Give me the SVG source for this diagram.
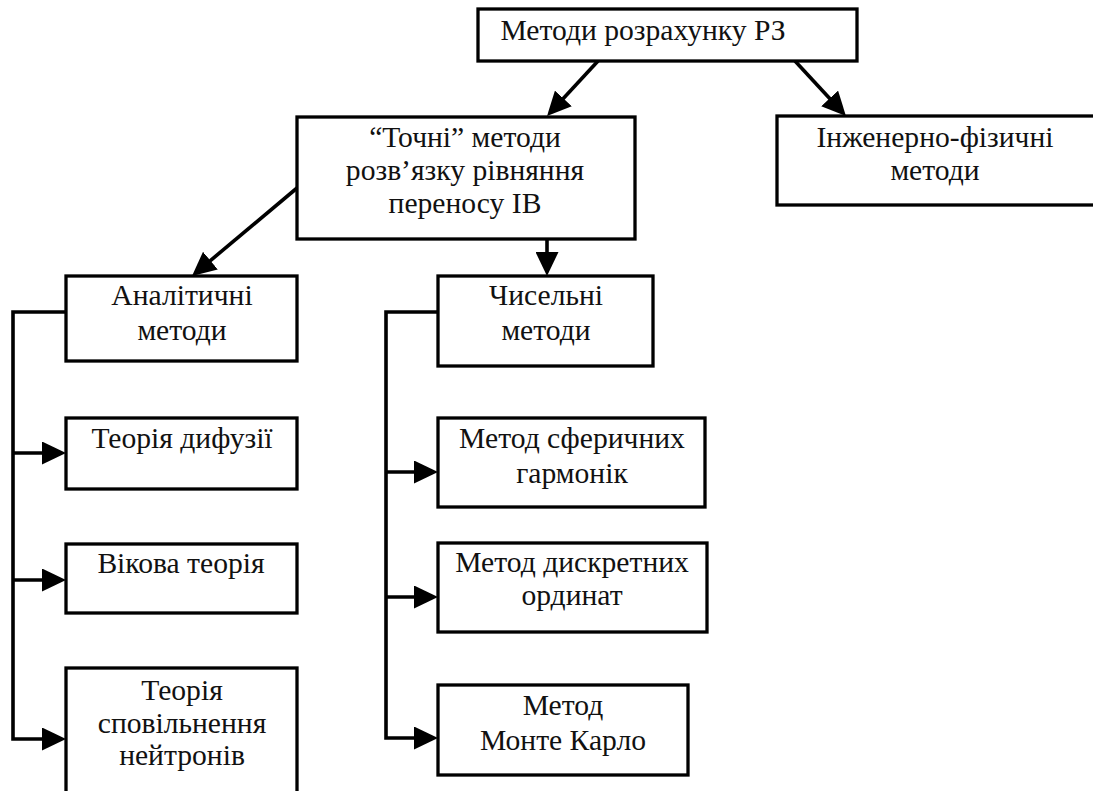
<svg xmlns="http://www.w3.org/2000/svg" width="1093" height="791" viewBox="0 0 1093 791">
<style>
.box{fill:#fff;stroke:#000;stroke-width:3.3}
.t{font-family:"Liberation Serif","Times New Roman",serif;font-size:29.6px;fill:#111;text-anchor:middle}
.c{fill:none;stroke:#000;stroke-width:3.6;stroke-linejoin:miter}
.a{marker-end:url(#ah)}
</style>
<defs>
<marker id="ah" viewBox="0 0 24 23" markerWidth="24" markerHeight="23" markerUnits="userSpaceOnUse" refX="12" refY="11.5" orient="auto">
<path d="M0,0 L24,11.5 L0,23 z" fill="#000"/>
</marker>
</defs>
<rect width="1093" height="791" fill="#fff"/>
<g id="connectors">
<line class="c a" x1="598" y1="61" x2="555.2" y2="107.2"/>
<line class="c a" x1="795" y1="61" x2="837.8" y2="107.2"/>
<line class="c a" x1="297" y1="188" x2="201.2" y2="268.3"/>
<line class="c a" x1="547" y1="239" x2="547" y2="264"/>
<path class="c a" d="M66,312 H13 V739 H54"/>
<path class="c a" d="M13,453 H54"/>
<path class="c a" d="M13,580 H54"/>
<path class="c a" d="M438,312 H386 V738 H426"/>
<path class="c a" d="M386,472 H426"/>
<path class="c a" d="M386,597 H426"/>
</g>
<g id="n-root"><rect class="box" x="478" y="9" width="379" height="52"/><text class="t" x="643" y="40">Методи розрахунку РЗ</text></g>
<g id="n-exact"><rect class="box" x="297" y="117" width="338" height="122"/><text class="t" x="465" y="147">“Точні” методи</text><text class="t" x="465" y="180">розв’язку рівняння</text><text class="t" x="465" y="213">переносу ІВ</text></g>
<g id="n-eng"><rect class="box" x="777" y="116" width="330" height="89"/><text class="t" x="935" y="147">Інженерно-фізичні</text><text class="t" x="935" y="180">методи</text></g>
<g id="n-anal"><rect class="box" x="66" y="276" width="231" height="85"/><text class="t" x="182" y="305">Аналітичні</text><text class="t" x="182" y="340">методи</text></g>
<g id="n-num"><rect class="box" x="438" y="276" width="215" height="90"/><text class="t" x="546" y="305">Чисельні</text><text class="t" x="546" y="340">методи</text></g>
<g id="n-diff"><rect class="box" x="66" y="418" width="231" height="71"/><text class="t" x="182" y="448">Теорія дифузії</text></g>
<g id="n-age"><rect class="box" x="66" y="544" width="231" height="69"/><text class="t" x="181" y="573">Вікова теорія</text></g>
<g id="n-slow"><rect class="box" x="66" y="668" width="231" height="140"/><text class="t" x="182" y="700">Теорія</text><text class="t" x="182" y="733">сповільнення</text><text class="t" x="182" y="765">нейтронів</text></g>
<g id="n-sph"><rect class="box" x="438" y="418" width="267" height="89"/><text class="t" x="572" y="448">Метод сферичних</text><text class="t" x="572" y="483">гармонік</text></g>
<g id="n-disc"><rect class="box" x="438" y="543" width="269" height="89"/><text class="t" x="572" y="572">Метод дискретних</text><text class="t" x="572" y="605">ординат</text></g>
<g id="n-mc"><rect class="box" x="438" y="685" width="250" height="90"/><text class="t" x="563" y="715">Метод</text><text class="t" x="563" y="750">Монте Карло</text></g>
</svg>
